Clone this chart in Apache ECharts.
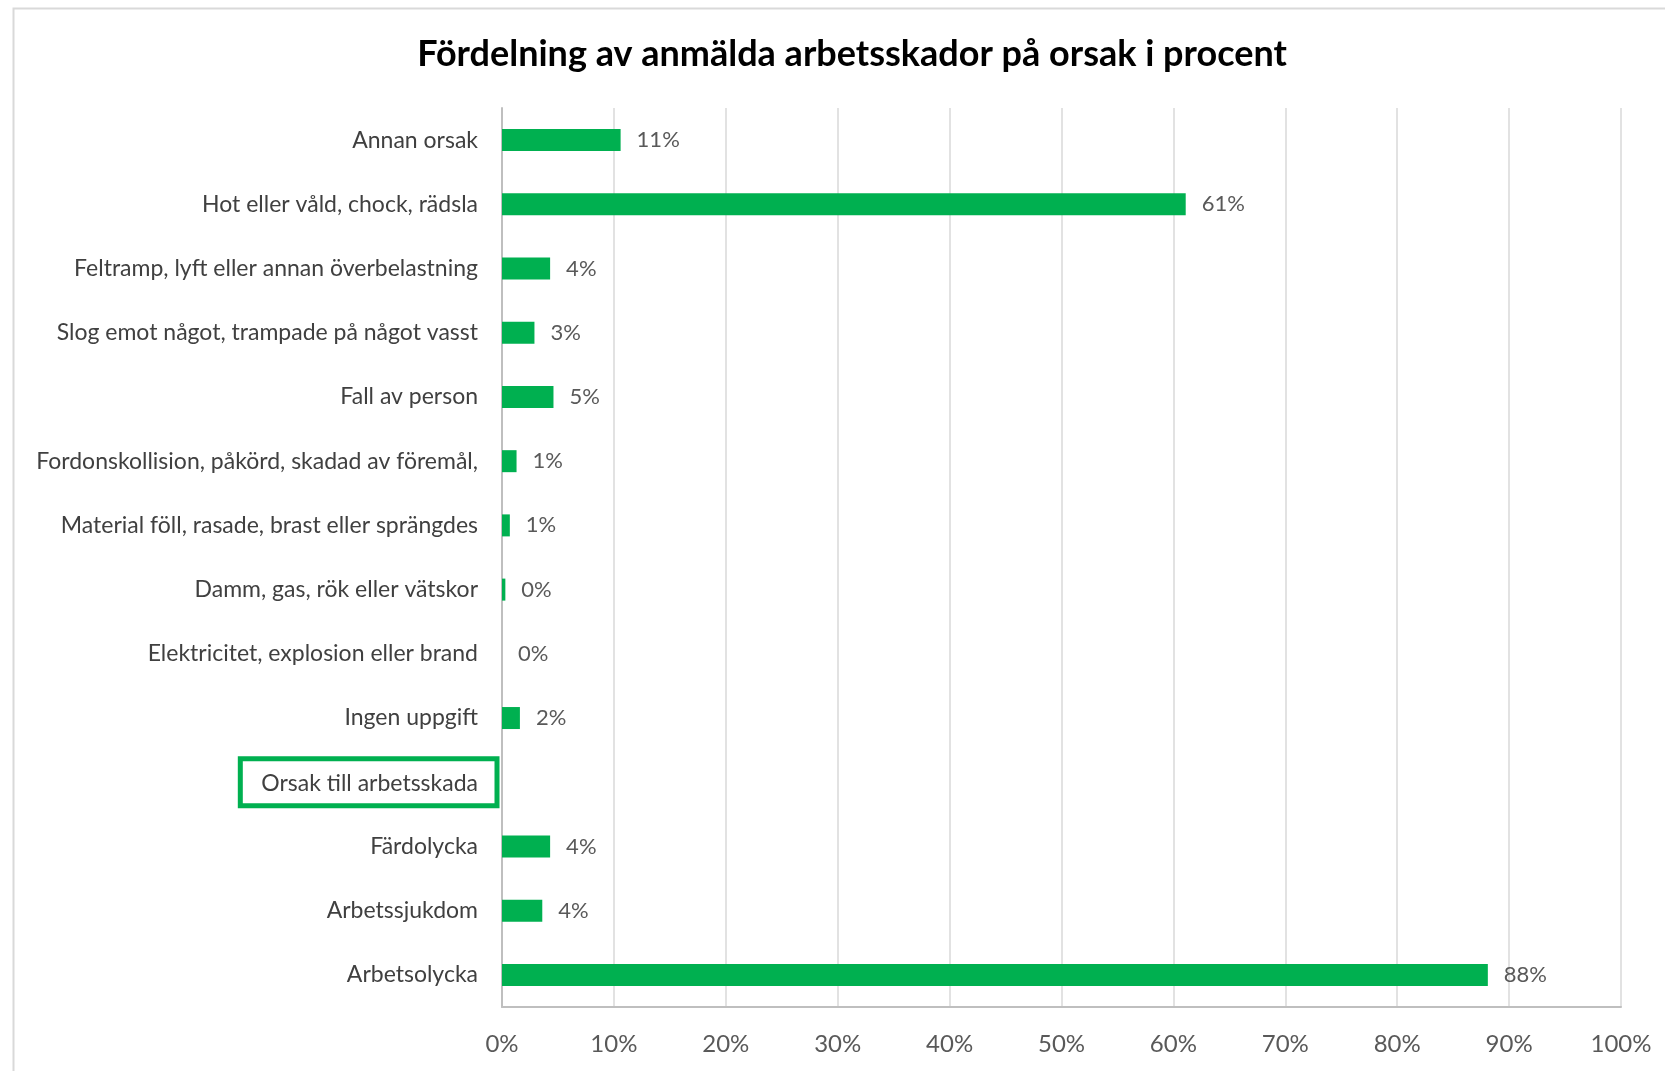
<!DOCTYPE html>
<html>
<head>
<meta charset="utf-8">
<script src="https://cdn.jsdelivr.net/npm/echarts@6/dist/echarts.min.js"></script>
<style>
  html, body { margin: 0; padding: 0; background: #fff; }
  #myChart { width: 1665px; height: 1071px; }
</style>
</head>
<body>
<div id="myChart"></div>
<script>
// categories, top to bottom
const categories = [
  'Annan orsak',
  'Hot eller våld, chock, rädsla',
  'Feltramp, lyft eller annan överbelastning',
  'Slog emot något, trampade på något vasst',
  'Fall av person',
  'Fordonskollision, påkörd, skadad av föremål,',
  'Material föll, rasade, brast eller sprängdes',
  'Damm, gas, rök eller vätskor',
  'Elektricitet, explosion eller brand',
  'Ingen uppgift',
  'Orsak till arbetsskada',
  'Färdolycka',
  'Arbetssjukdom',
  'Arbetsolycka'
];
// percent values (null = heading row, no bar)
const values = [10.6, 61.1, 4.3, 2.9, 4.6, 1.3, 0.7, 0.3, 0.0, 1.6, null, 4.3, 3.6, 88.1];
const boxedCategory = 'Orsak till arbetsskada';

const green = '#00B050';
const font = 'Lato, "Open Sans", sans-serif';

const myChart = echarts.init(document.getElementById('myChart'));

const option = {
  backgroundColor: '#fff',
  animation: false,
  title: {
    text: 'Fördelning av anmälda arbetsskador på orsak i procent',
    left: 847,
    textAlign: 'center',
    top: 31,
    textStyle: { fontFamily: font, fontSize: 36, fontWeight: 'bold', color: '#000' }
  },
  graphic: [{
    type: 'rect',
    left: 11, top: 6,
    shape: { width: 1700, height: 1100 },
    style: { fill: 'none', stroke: '#d9d9d9', lineWidth: 2 },
    silent: true
  }],
  grid: { left: 502, right: 44, top: 108, bottom: 64, containLabel: false },
  xAxis: {
    type: 'value',
    min: 0, max: 100, interval: 10,
    axisLine: { show: true, lineStyle: { color: '#bfbfbf', width: 2 } },
    axisTick: { show: false },
    splitLine: { show: true, lineStyle: { color: '#d9d9d9', width: 1.5 } },
    axisLabel: {
      formatter: '{value}%', margin: 25,
      fontFamily: font, fontSize: 24, color: '#595959'
    }
  },
  yAxis: {
    type: 'category',
    inverse: true,
    data: categories,
    axisLine: { show: true, lineStyle: { color: '#bfbfbf', width: 2 } },
    axisTick: { show: false },
    axisLabel: {
      margin: 5,
      formatter: function (v) {
        return v === boxedCategory ? '{b|' + v + '}' : '{n|' + v + '}';
      },
      rich: {
        n: { fontFamily: font, fontSize: 23, color: '#404040', padding: [0, 19, 0, 0] },
        b: {
          fontFamily: font, fontSize: 23, color: '#404040',
          padding: [13, 19, 11, 21],
          borderColor: green, borderWidth: 5
        }
      }
    }
  },
  series: [{
    type: 'bar',
    data: values,
    barWidth: 22,
    itemStyle: { color: green },
    label: {
      show: true,
      position: 'right',
      distance: 16,
      fontFamily: font, fontSize: 22, color: '#595959',
      formatter: function (p) {
        return p.value == null ? '' : Math.round(p.value) + '%';
      }
    }
  }]
};

myChart.setOption(option);
</script>
</body>
</html>
